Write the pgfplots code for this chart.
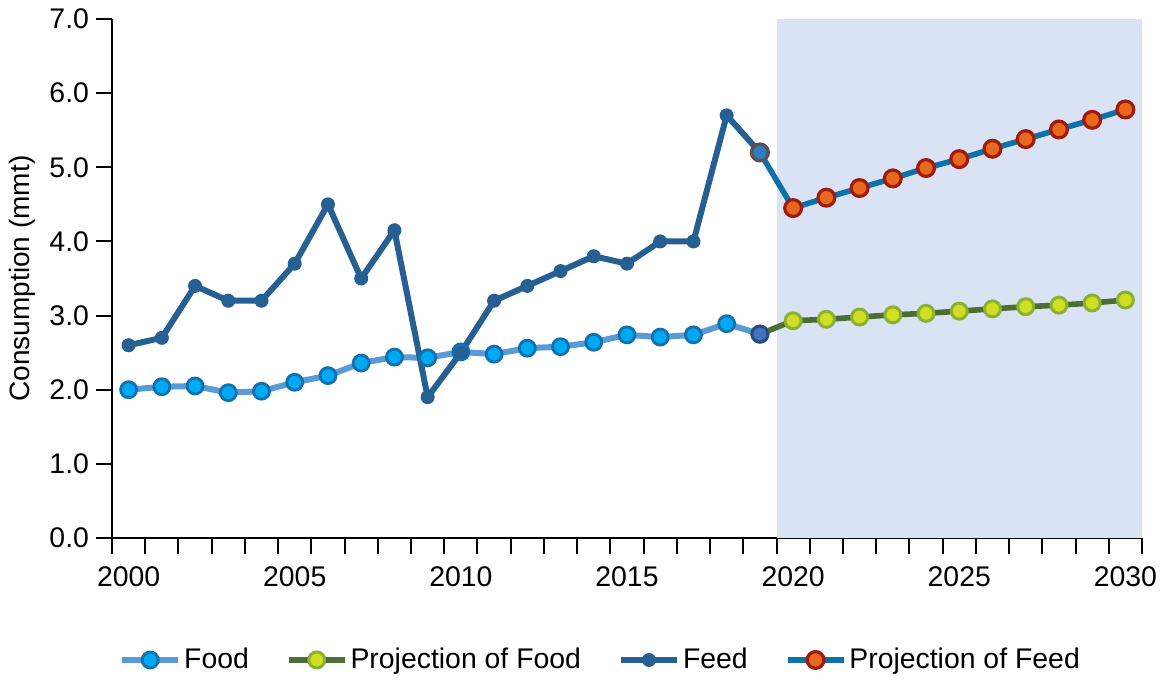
\documentclass[border=0pt]{standalone}
\usepackage{pgfplots}
\pgfplotsset{compat=1.18}
\usepackage{fontspec}
\setmainfont{Liberation Sans}
\definecolor{foodline}{HTML}{5B9BD5}
\definecolor{foodfill}{HTML}{00A9F4}
\definecolor{foodedge}{HTML}{1170B0}
\definecolor{pfoodline}{HTML}{4A6E34}
\definecolor{pfoodfill}{HTML}{D2DE22}
\definecolor{pfoodedge}{HTML}{8AB132}
\definecolor{feed}{HTML}{265F92}
\definecolor{pfeedline}{HTML}{0E72AA}
\definecolor{pfeedfill}{HTML}{E8681E}
\definecolor{pfeededge}{HTML}{A11A0E}
\definecolor{shadecol}{HTML}{DAE3F3}
\definecolor{fnfill}{HTML}{4472C4}
\definecolor{fnedge}{HTML}{2B4C80}
\definecolor{fdfill}{HTML}{2E7BC6}
\definecolor{fdedge}{HTML}{555555}
\begin{document}
\begin{tikzpicture}
\begin{axis}[
  scale only axis, width=515pt, height=259.5pt,
  xmin=1999.5, xmax=2030.5, ymin=0, ymax=7,
  axis lines=left, axis line style={-, line width=1pt, black},
  tick align=outside,
  xtick={2000,2005,...,2030},
  major x tick style={draw=none},
  minor xtick={1999.5,2000.5,...,2030.5},
  minor tick length=8pt,
  minor x tick style={line width=1pt, black},
  xticklabel style={/pgf/number format/1000 sep={}, yshift=-3pt},
  ytick={0,1,...,7},
  major y tick style={line width=1pt, black},
  major tick length=8pt,
  yticklabel style={/pgf/number format/.cd, fixed, fixed zerofill, precision=1},
  /pgf/number format/assume math mode=true,
  tick label style={font=\fontsize{14.2}{16}\selectfont},
  ylabel={Consumption (mmt)},
  ylabel style={font=\fontsize{14}{16}\selectfont, at={(axis description cs:-0.0874,0.5)}, anchor=center},
  legend columns=4,
  legend style={draw=none, fill=none, at={(axis description cs:0.4748,-0.235)}, anchor=center,
    font=\fontsize{14.2}{16}\selectfont,
    /tikz/every even column/.append style={column sep=17pt},
    nodes={inner sep=1.5pt}},
  legend image code/.code={\draw[mark repeat=2,mark phase=2,#1] plot coordinates {(0pt,0pt)(14pt,0pt)(28pt,0pt)};},
]
\fill[fill=shadecol] (axis cs:2019.5,0) rectangle (axis cs:2030.5,7);
% Food
\addplot[foodline, line width=3pt, mark=*, mark size=4pt,
  mark options={fill=foodfill, draw=foodedge, line width=1.4pt}] coordinates {
(2000,2.00)(2001,2.04)(2002,2.05)(2003,1.96)(2004,1.98)(2005,2.10)(2006,2.19)(2007,2.36)(2008,2.44)(2009,2.43)
(2010,2.51)(2011,2.48)(2012,2.56)(2013,2.58)(2014,2.64)(2015,2.74)(2016,2.71)(2017,2.74)(2018,2.89)(2019,2.75)};
\addlegendentry{Food}
% Projection of Food
\addplot[pfoodline, line width=2.8pt, mark=*, mark size=4pt,
  mark options={fill=pfoodfill, draw=pfoodedge, line width=1.5pt}] coordinates {
(2019,2.75)(2020,2.93)(2021,2.95)(2022,2.98)(2023,3.01)(2024,3.03)(2025,3.06)(2026,3.09)(2027,3.12)(2028,3.14)(2029,3.17)(2030,3.21)};
\addlegendentry{Projection of Food}
\addplot[forget plot, only marks, mark=*, mark size=4pt,
  mark options={fill=fnfill, draw=fnedge, line width=1.5pt}] coordinates {(2019,2.75)};
% Feed
\addplot[feed, line width=3pt, mark=*, mark size=3pt,
  mark options={fill=feed, draw=feed, line width=1pt}] coordinates {
(2000,2.60)(2001,2.70)(2002,3.40)(2003,3.20)(2004,3.20)(2005,3.70)(2006,4.50)(2007,3.50)(2008,4.15)(2009,1.90)
(2010,2.50)(2011,3.20)(2012,3.40)(2013,3.60)(2014,3.80)(2015,3.70)(2016,4.00)(2017,4.00)(2018,5.70)(2019,5.20)};
\addlegendentry{Feed}
% Projection of Feed
\addplot[pfeedline, line width=2.8pt, mark=*, mark size=4.2pt,
  mark options={fill=pfeedfill, draw=pfeededge, line width=1.6pt}] coordinates {
(2019,5.20)(2020,4.45)(2021,4.59)(2022,4.72)(2023,4.85)(2024,4.99)(2025,5.11)(2026,5.25)(2027,5.38)(2028,5.51)(2029,5.64)(2030,5.78)};
\addlegendentry{Projection of Feed}
\addplot[forget plot, only marks, mark=*, mark size=4.1pt,
  mark options={fill=fdfill, draw=fdedge, line width=1.5pt}] coordinates {(2019,5.20)};
\end{axis}
\pgfresetboundingbox
\path (-56pt,-71.5pt) rectangle (526pt,269pt);
\end{tikzpicture}
\end{document}
